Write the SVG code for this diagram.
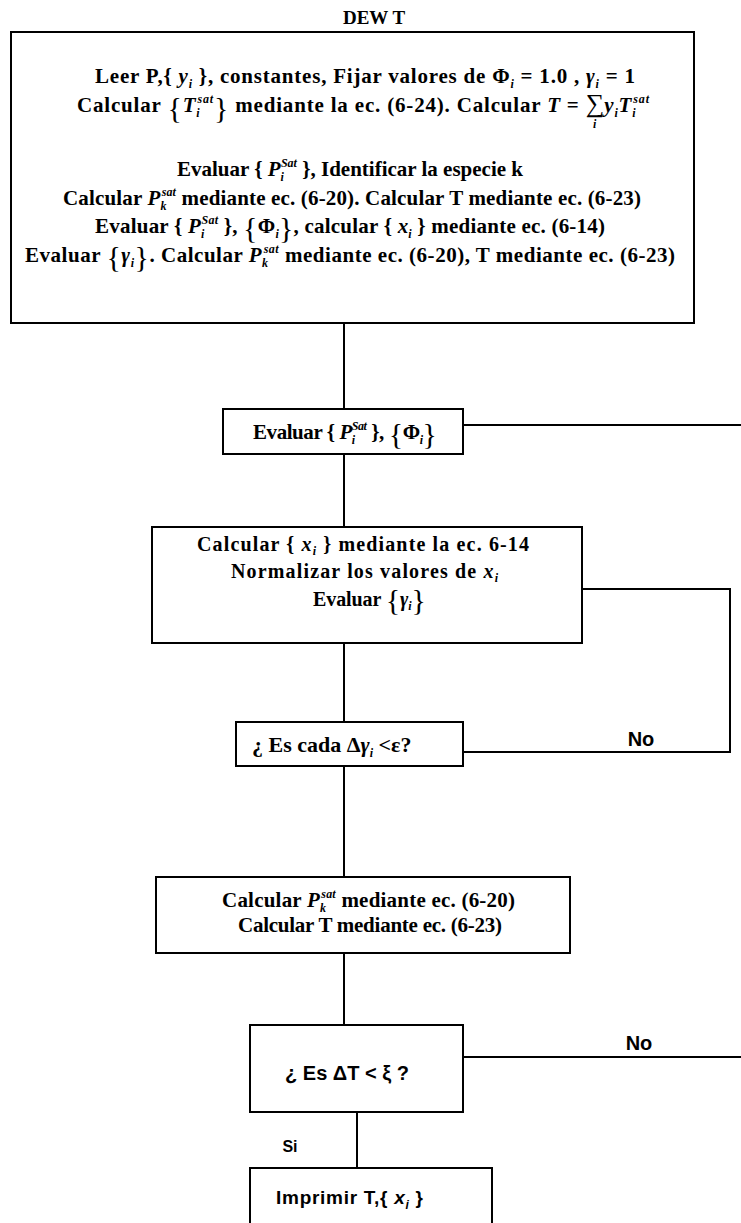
<svg xmlns="http://www.w3.org/2000/svg" width="741" height="1223" viewBox="0 0 741 1223">
<style>
.t{font-family:"Liberation Serif","Times New Roman",serif;font-weight:bold;font-size:21px;fill:#000}
.s{font-family:"Liberation Sans",Arial,sans-serif;font-weight:bold;fill:#000}
.i{font-style:italic}
.sm{font-size:12px;font-style:italic}
.br{font-size:30px;font-weight:normal}
.sg{font-size:26px;font-weight:normal}
.box{fill:#fff;stroke:#000;stroke-width:2}
.ln{stroke:#000;stroke-width:2;fill:none}
</style>
<rect width="741" height="1223" fill="#fff"/>
<text id="title" x="374" y="24" class="t" text-anchor="middle" style="font-size:19px">DEW T</text>
<g id="connectors">
<line class="ln" x1="344" y1="323" x2="344" y2="409"/>
<line class="ln" x1="344" y1="454" x2="344" y2="527"/>
<line class="ln" x1="463" y1="425" x2="741" y2="425"/>
<line class="ln" x1="344" y1="643" x2="344" y2="722"/>
<polyline class="ln" points="582,589 730,589 730,752 463,752"/>
<line class="ln" x1="344" y1="766" x2="344" y2="877"/>
<line class="ln" x1="344" y1="953" x2="344" y2="1025"/>
<line class="ln" x1="463" y1="1057" x2="741" y2="1057"/>
<line class="ln" x1="357" y1="1112" x2="357" y2="1168"/>
<text class="s" x="641" y="746" text-anchor="middle" style="font-size:20px">No</text>
<text class="s" x="639" y="1050" text-anchor="middle" style="font-size:20px">No</text>
<text class="s" x="290" y="1152" text-anchor="middle" style="font-size:16px">Si</text>
</g>
<g id="n1">
<rect class="box" x="11" y="32" width="683" height="291"/>
<text class="t" x="95" y="83" textLength="540" lengthAdjust="spacing">Leer P,{ <tspan class="i">y</tspan><tspan class="sm" dy="5">i</tspan><tspan dy="-5"> }, constantes, Fijar valores de Φ</tspan><tspan class="sm" dy="5">i</tspan><tspan dy="-5"> = 1.0 , </tspan><tspan class="i">γ</tspan><tspan class="sm" dy="5">i</tspan><tspan dy="-5"> = 1</tspan></text>
<text class="t" x="77" y="112" textLength="572" lengthAdjust="spacing">Calcular <tspan class="br" dy="6">{</tspan><tspan class="i" dy="-6">T</tspan><tspan class="sm" dy="5">i</tspan><tspan class="sm" dx="-3" dy="-14">sat</tspan><tspan class="br" dy="15">}</tspan><tspan dy="-6"> mediante la ec. (6-24). Calcular </tspan><tspan class="i">T</tspan> = <tspan class="sg">∑</tspan><tspan class="sm" dx="-12" dy="16">i</tspan><tspan class="i" dx="7" dy="-16">y</tspan><tspan class="sm" dy="5">i</tspan><tspan class="i" dy="-5">T</tspan><tspan class="sm" dy="5">i</tspan><tspan class="sm" dx="-3" dy="-14">sat</tspan></text>
<text class="t" x="350" y="176" text-anchor="middle">Evaluar { <tspan class="i">P</tspan><tspan class="sm" dy="5">i</tspan><tspan class="sm" dx="-3" dy="-14">Sat</tspan><tspan dy="9"> }, Identificar la especie k</tspan></text>
<text class="t" x="63" y="205" textLength="578" lengthAdjust="spacing">Calcular <tspan class="i">P</tspan><tspan class="sm" dy="5">k</tspan><tspan class="sm" dx="-5" dy="-14">sat</tspan><tspan dy="9"> mediante ec. (6-20). Calcular T mediante ec. (6-23)</tspan></text>
<text class="t" x="95" y="233" textLength="510" lengthAdjust="spacing">Evaluar { <tspan class="i">P</tspan><tspan class="sm" dy="5">i</tspan><tspan class="sm" dx="-3" dy="-14">Sat</tspan><tspan dy="9"> }, </tspan><tspan class="br" dy="5">{</tspan><tspan dy="-5">Φ</tspan><tspan class="sm" dy="5">i</tspan><tspan class="br">}</tspan><tspan dy="-5">, calcular { </tspan><tspan class="i">x</tspan><tspan class="sm" dy="5">i</tspan><tspan dy="-5"> } mediante ec. (6-14)</tspan></text>
<text class="t" x="25" y="262" textLength="650" lengthAdjust="spacing">Evaluar <tspan class="br" dy="5">{</tspan><tspan class="i" dy="-5">γ</tspan><tspan class="sm" dy="5">i</tspan><tspan class="br">}</tspan><tspan dy="-5">. Calcular </tspan><tspan class="i">P</tspan><tspan class="sm" dy="5">k</tspan><tspan class="sm" dx="-5" dy="-14">sat</tspan><tspan dy="9"> mediante ec. (6-20), T mediante ec. (6-23)</tspan></text>
</g>
<g id="n2">
<rect class="box" x="223" y="409" width="240" height="45"/>
<text class="t" x="253" y="439" textLength="184" lengthAdjust="spacing">Evaluar { <tspan class="i">P</tspan><tspan class="sm" dy="5">i</tspan><tspan class="sm" dx="-3" dy="-14">Sat</tspan><tspan dy="9"> }, </tspan><tspan class="br" dy="5">{</tspan><tspan dy="-5">Φ</tspan><tspan class="sm" dy="5">i</tspan><tspan class="br">}</tspan></text>
</g>
<g id="n3">
<rect class="box" x="152" y="527" width="430" height="116"/>
<text class="t" x="197" y="551" textLength="332" lengthAdjust="spacing" style="font-size:20px">Calcular { <tspan class="i">x</tspan><tspan class="sm" dy="4">i</tspan><tspan dy="-4"> } mediante la ec. 6-14</tspan></text>
<text class="t" x="231" y="578" textLength="267" lengthAdjust="spacing" style="font-size:20px">Normalizar los valores de  <tspan class="i">x</tspan><tspan class="sm" dy="4">i</tspan></text>
<text class="t" x="313" y="606" textLength="113" lengthAdjust="spacing" style="font-size:20px">Evaluar <tspan class="br" dy="4">{</tspan><tspan class="i" dy="-4">γ</tspan><tspan class="sm" dy="4">i</tspan><tspan class="br">}</tspan></text>
</g>
<g id="n4">
<rect class="box" x="236" y="722" width="227" height="44"/>
<text class="t" x="252" y="752" style="font-size:22px">¿ Es cada Δ<tspan class="i">γ</tspan><tspan class="sm" dy="5">i</tspan><tspan dy="-5">  &lt;ε?</tspan></text>
</g>
<g id="n5">
<rect class="box" x="156" y="877" width="414" height="76"/>
<text class="t" x="222" y="907" textLength="293" lengthAdjust="spacing">Calcular  <tspan class="i">P</tspan><tspan class="sm" dy="5">k</tspan><tspan class="sm" dx="-5" dy="-14">sat</tspan><tspan dy="9">  mediante ec. (6-20)</tspan></text>
<text class="t" x="238" y="932" textLength="264" lengthAdjust="spacing">Calcular T mediante ec. (6-23)</text>
</g>
<g id="n6">
<rect class="box" x="250" y="1025" width="213" height="87"/>
<text class="s" x="347" y="1080" text-anchor="middle" style="font-size:20px">¿ Es ΔT &lt; ξ ?</text>
</g>
<g id="n7">
<rect class="box" x="250" y="1168" width="242" height="80"/>
<text class="s" x="276" y="1204" textLength="147" lengthAdjust="spacing" style="font-size:19px">Imprimir T,{  <tspan class="i">x</tspan><tspan class="sm" dy="5">i</tspan><tspan dy="-5"> }</tspan></text>
</g>
</svg>
